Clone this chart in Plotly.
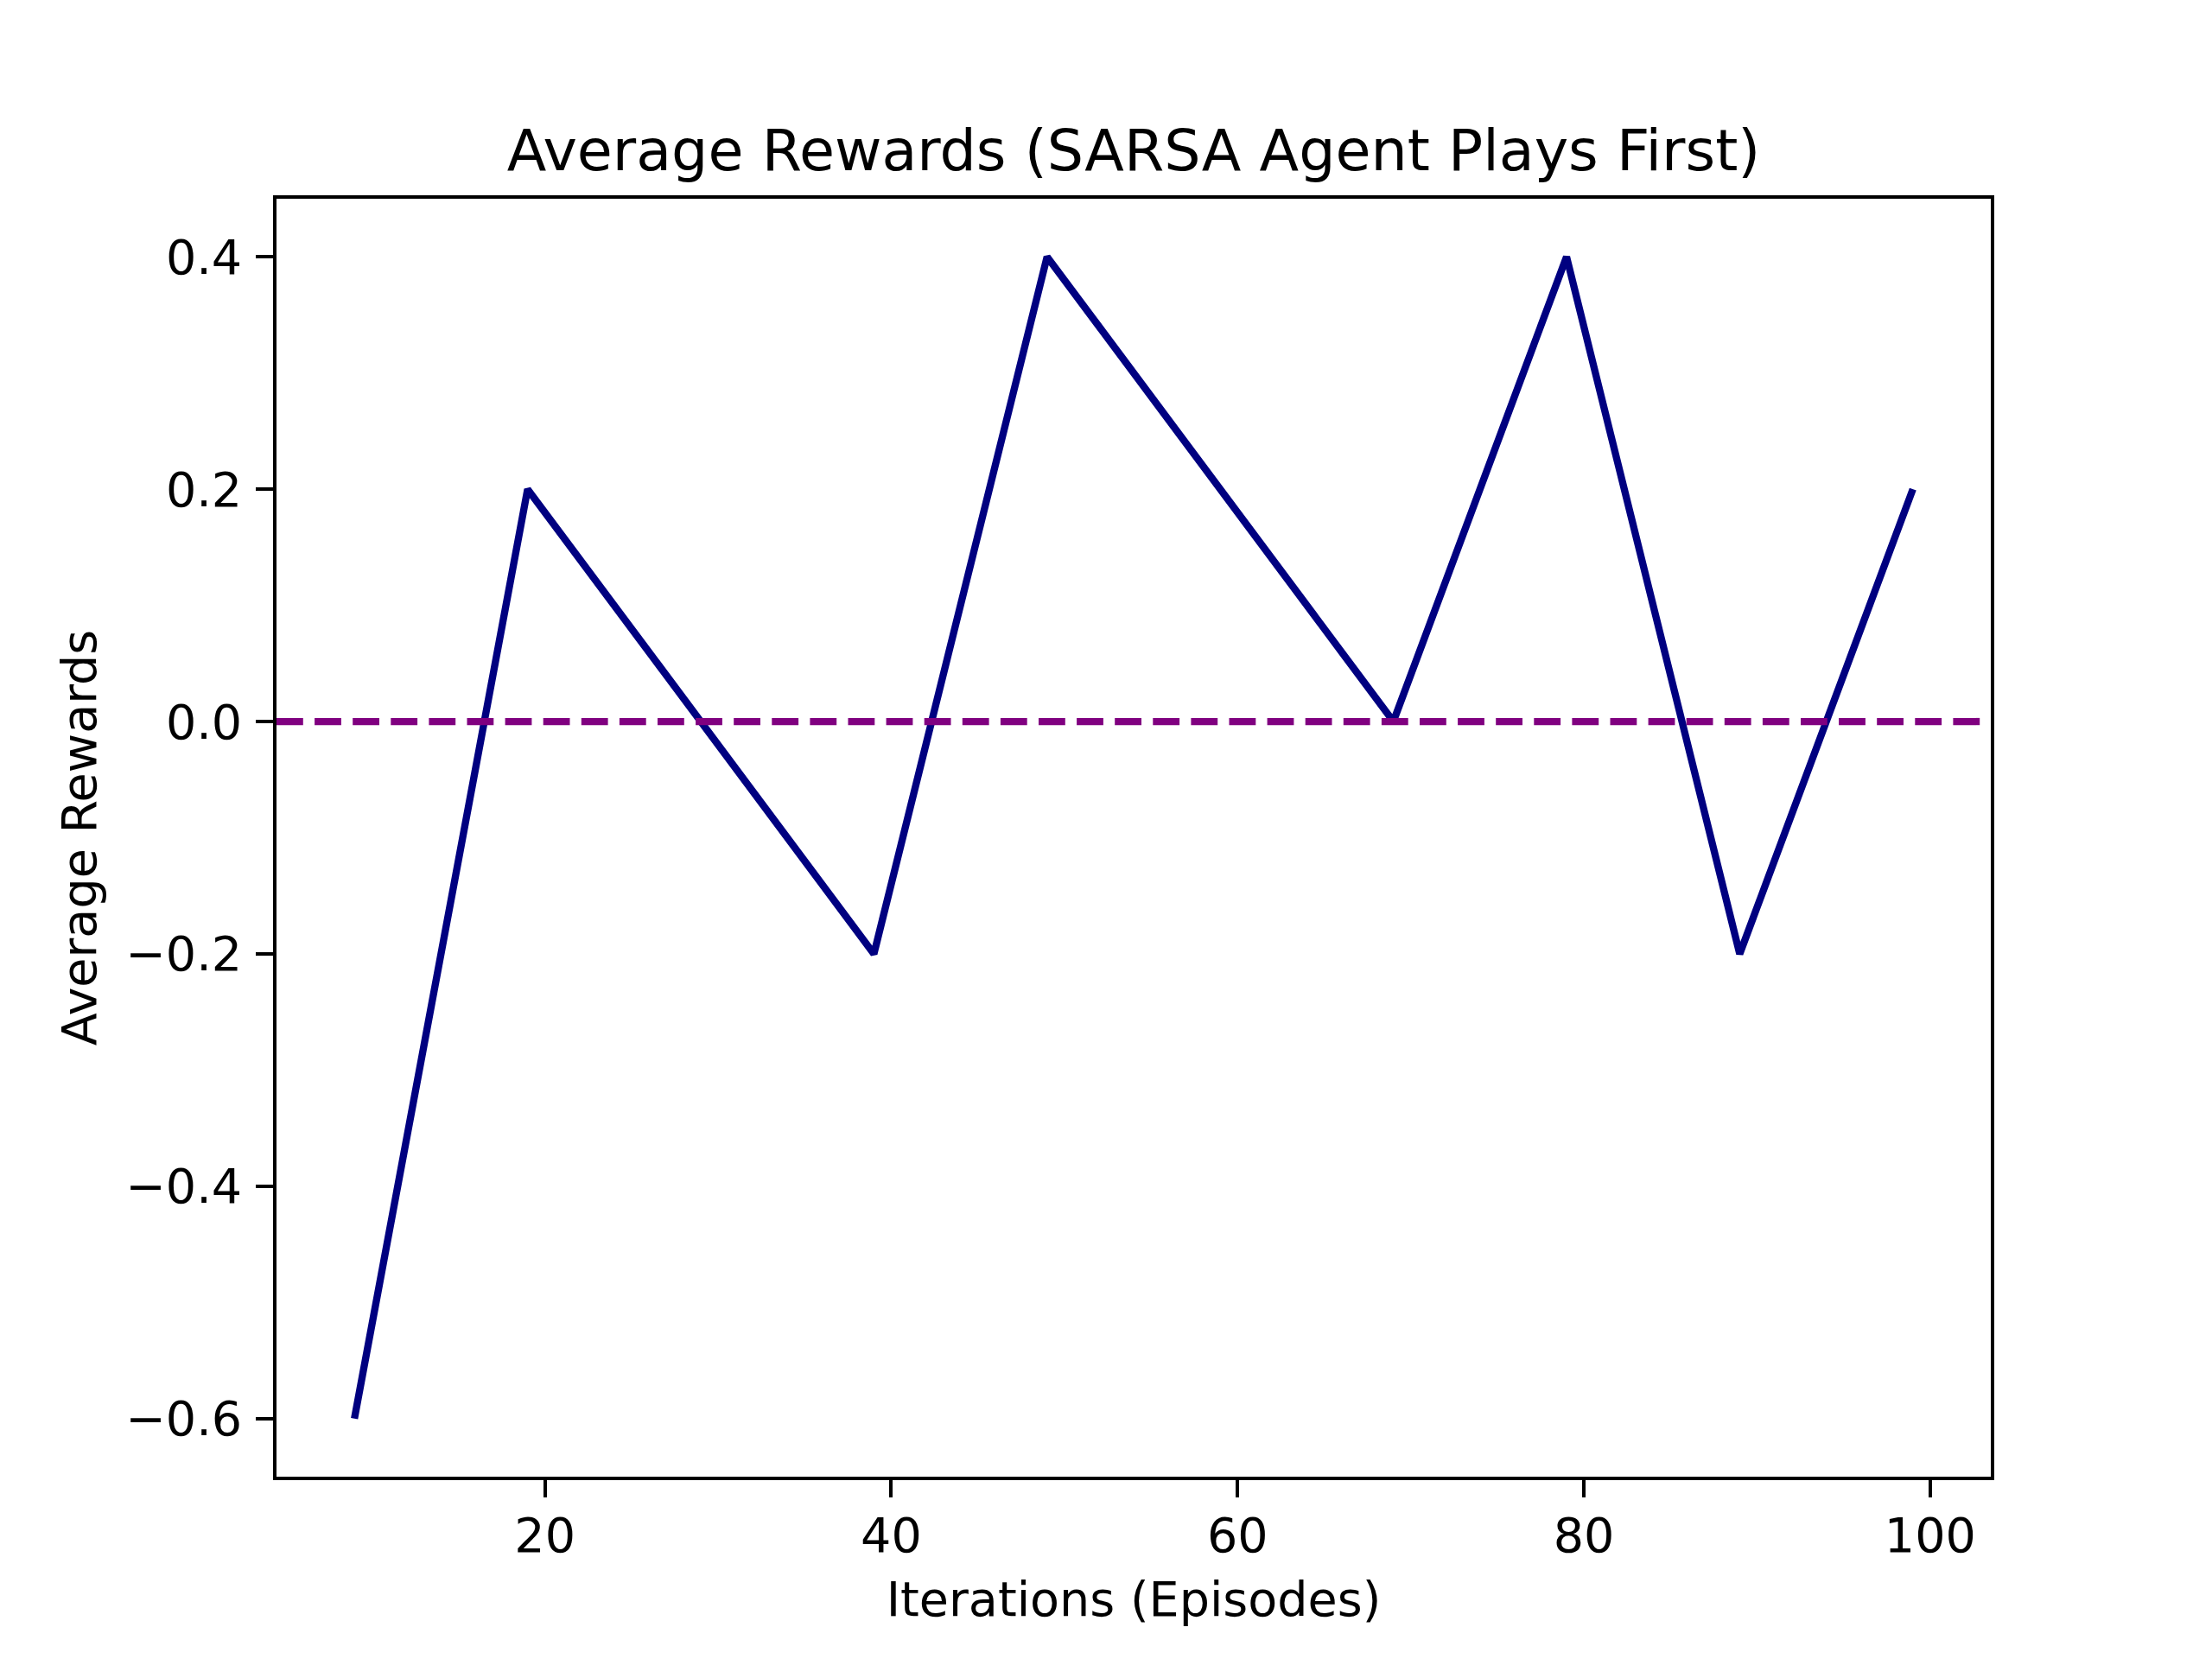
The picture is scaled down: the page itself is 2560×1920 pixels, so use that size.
import plotly.graph_objects as go

episodes = [9, 19, 29, 39, 49, 59, 69, 79, 89, 99]
avg_rewards = [-0.6, 0.2, 0.0, -0.2, 0.4, 0.2, 0.0, 0.4, -0.2, 0.2]
baseline = 0.0

x_ticks = [20, 40, 60, 80, 100]
x_ticktext = ["20", "40", "60", "80", "100"]
y_ticks = [-0.6, -0.4, -0.2, 0.0, 0.2, 0.4]
y_ticktext = ["\u22120.6", "\u22120.4", "\u22120.2", "0.0", "0.2", "0.4"]

# page body has an 8px margin, so the figure is slightly smaller and margins shifted
W, H = 2544, 1904
FONT = "DejaVu Sans"
PX = 400 / 72.0  # px per pt

fig = go.Figure()
fig.add_trace(go.Scatter(
    x=episodes, y=avg_rewards, mode="lines",
    line=dict(color="#000080", width=1.5 * PX),
    showlegend=False,
))
fig.add_hline(
    y=baseline, line=dict(color="#800080", width=1.5 * PX, dash="%.1fpx,%.1fpx" % (3.7 * 1.5 * PX, 1.6 * 1.5 * PX)),
    layer="above",
)

axis_common = dict(
    showgrid=False, zeroline=False, showline=True, mirror=True,
    linecolor="black", linewidth=0.8 * PX,
    ticks="outside", ticklen=3.5 * PX, tickwidth=0.8 * PX, tickcolor="black",
    tickfont=dict(family=FONT, size=10 * PX, color="black"),
)

fig.update_layout(
    width=W, height=H,
    margin=dict(l=312, r=248, t=222, b=203, pad=0),
    paper_bgcolor="white", plot_bgcolor="white",
    font=dict(family=FONT, color="black"),
    title=dict(
        text="Average Rewards (SARSA Agent Plays First)",
        font=dict(family=FONT, size=12 * PX, color="black"),
        x=(312 + 312 + 1984) / 2 / W, xanchor="center",
        yref="container", y=1 - 166 / H, yanchor="middle",
    ),
    xaxis=dict(
        range=[4.5, 103.5], tickvals=x_ticks, ticktext=x_ticktext,
        ticklabelstandoff=-3,
        title=dict(text="Iterations (Episodes)", font=dict(family=FONT, size=10 * PX, color="black"), standoff=24),
        **axis_common,
    ),
    yaxis=dict(
        range=[-0.65, 0.45], tickvals=y_ticks, ticktext=y_ticktext,
        ticklabelstandoff=5,
        title=dict(text="Average Rewards", font=dict(family=FONT, size=10 * PX, color="black"), standoff=17),
        **axis_common,
    ),
)

fig.write_html("out.html")
